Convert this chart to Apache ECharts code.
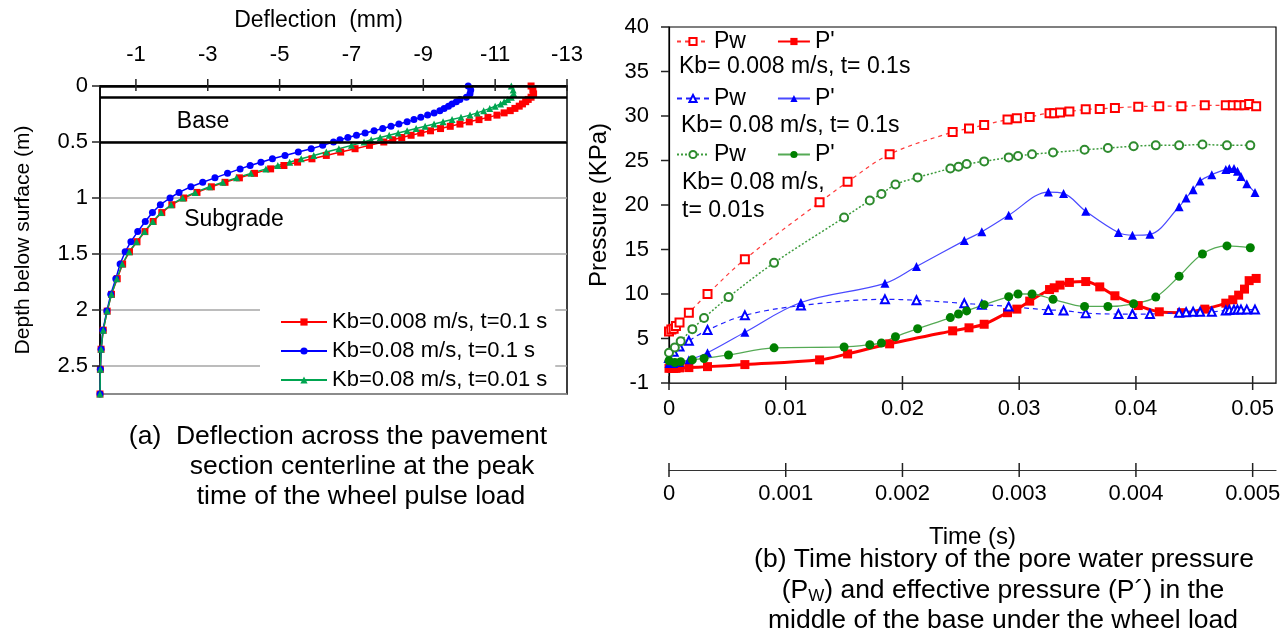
<!DOCTYPE html>
<html>
<head>
<meta charset="utf-8">
<title>Deflection and pore pressure</title>
<script src="https://cdn.jsdelivr.net/npm/echarts@6.0.0/dist/echarts.min.js"></script>
<style>
  html, body { margin: 0; padding: 0; background: #fff; }
  #chart { width: 1286px; height: 634px; }
</style>
</head>
<body>
<div id="chart"></div>
<script>
// (a) deflection profile, shared depth nodes (m)
const depthNodes = [0, 0.035, 0.07, 0.1, 0.12, 0.14, 0.16, 0.18, 0.2, 0.22,
  0.24, 0.26, 0.28, 0.3, 0.32, 0.34, 0.36, 0.38, 0.4, 0.42,
  0.44, 0.46, 0.48, 0.5, 0.53, 0.56, 0.59, 0.62, 0.65, 0.68,
  0.71, 0.74, 0.78, 0.82, 0.86, 0.9, 0.95, 1.0, 1.06, 1.13,
  1.21, 1.3, 1.39, 1.48, 1.59, 1.72, 1.86, 2.01, 2.18, 2.35,
  2.53, 2.75];
const defRed = [-12.0, -12.05, -12.07, -12.0, -11.92, -11.85, -11.76, -11.67, -11.55, -11.42,
  -11.25, -11.05, -10.8, -10.55, -10.28, -10.02, -9.75, -9.48, -9.2, -8.93,
  -8.66, -8.4, -8.15, -7.9, -7.5, -7.1, -6.7, -6.3, -5.9, -5.5,
  -5.12, -4.75, -4.3, -3.88, -3.48, -3.1, -2.7, -2.33, -2.0, -1.72,
  -1.48, -1.25, -1.03, -0.82, -0.63, -0.48, -0.32, -0.2, -0.09, -0.03,
  -0.01, 0];
const defBlue = [-10.25, -10.32, -10.3, -10.2, -10.02, -9.92, -9.8, -9.7, -9.58, -9.46,
  -9.3, -9.12, -8.93, -8.74, -8.55, -8.32, -8.1, -7.87, -7.63, -7.38,
  -7.14, -6.9, -6.68, -6.5, -6.2, -5.88, -5.52, -5.15, -4.8, -4.48,
  -4.18, -3.9, -3.55, -3.2, -2.86, -2.53, -2.2, -1.95, -1.68, -1.46,
  -1.26, -1.05, -0.86, -0.7, -0.56, -0.44, -0.3, -0.19, -0.08, -0.03,
  -0.01, 0];
const defGreen = [-11.45, -11.5, -11.52, -11.45, -11.35, -11.25, -11.15, -11.0, -10.85, -10.68,
  -10.5, -10.3, -10.05, -9.8, -9.55, -9.3, -9.05, -8.8, -8.55, -8.3,
  -8.05, -7.8, -7.55, -7.35, -7.0, -6.65, -6.3, -5.95, -5.6, -5.28,
  -4.95, -4.62, -4.2, -3.8, -3.42, -3.05, -2.65, -2.3, -1.98, -1.7,
  -1.47, -1.24, -1.02, -0.81, -0.62, -0.47, -0.32, -0.2, -0.09, -0.03,
  -0.01, 0];
const layerDepths = [0, 0.1, 0.5];
const deflTicks = [-1, -3, -5, -7, -9, -11, -13];
const depthTicks = [0, 0.5, 1, 1.5, 2, 2.5];

// (b) pressure history (s, KPa)
const redT = [0, 0.0002, 0.0004, 0.0006, 0.0009, 0.0017, 0.0033, 0.0065, 0.0129, 0.0153,
  0.0189, 0.0243, 0.0257, 0.027, 0.029, 0.0298, 0.0309, 0.0326, 0.033, 0.0335,
  0.0343, 0.0357, 0.0369, 0.0382, 0.0402, 0.042, 0.0439, 0.0459, 0.0477, 0.0483,
  0.0488, 0.0493, 0.0497, 0.0503];
const redPw = [5.8, 6.0, 6.1, 6.4, 6.8, 7.9, 10.0, 13.9, 20.3, 22.6,
  25.7, 28.2, 28.6, 29.0, 29.6, 29.75, 29.9, 30.3, 30.3, 30.4,
  30.5, 30.75, 30.8, 30.9, 31.05, 31.1, 31.1, 31.2, 31.2, 31.2,
  31.2, 31.2, 31.35, 31.1];
const redP = [1.65, 1.65, 1.65, 1.65, 1.7, 1.73, 1.84, 2.07, 2.6, 3.27,
  4.4, 5.86, 6.2, 6.6, 7.9, 8.3, 9.2, 10.5, 10.7, 11.0,
  11.3, 11.4, 10.8, 9.8, 8.7, 8.0, 7.9, 8.3, 8.97, 9.35,
  9.87, 10.55, 11.5, 11.75];

const blueT = [0, 0.0004, 0.0009, 0.0017, 0.0033, 0.0065, 0.0113, 0.0185, 0.0212, 0.0253,
  0.0268, 0.0291, 0.0325, 0.0338, 0.0357, 0.0385, 0.0397, 0.0412, 0.0437, 0.0443,
  0.0449, 0.0455, 0.0465, 0.0477, 0.048, 0.0484, 0.0487, 0.049, 0.0495, 0.0502];
const bluePw = [2.8, 3.5, 4.1, 4.75, 5.95, 7.6, 8.7, 9.4, 9.3, 8.95,
  8.8, 8.6, 8.2, 8.15, 7.85, 7.75, 7.75, 7.75, 7.9, 7.95,
  8.0, 8.0, 8.0, 8.15, 8.2, 8.25, 8.25, 8.25, 8.25, 8.25];
const blueP = [2.2, 2.2, 2.3, 2.6, 3.4, 5.7, 9.05, 11.2, 13.1, 16.0,
  17.0, 18.85, 21.45, 21.3, 19.3, 16.9, 16.6, 16.7, 19.8, 20.8,
  21.7, 22.7, 23.4, 24.0, 24.1, 24.1, 23.8, 23.2, 22.4, 21.4];

const greenT = [0, 0.0005, 0.001, 0.002, 0.003, 0.0051, 0.009, 0.015, 0.0172, 0.0182,
  0.0194, 0.0213, 0.0241, 0.0248, 0.0255, 0.027, 0.0291, 0.0299, 0.0311, 0.0329,
  0.0356, 0.0376, 0.0398, 0.0417, 0.0437, 0.0457, 0.0478, 0.0498];
const greenPw = [3.4, 4.0, 4.7, 6.05, 7.3, 9.65, 13.5, 18.6, 20.5, 21.25,
  22.3, 23.1, 24.1, 24.3, 24.6, 24.9, 25.35, 25.5, 25.7, 25.9,
  26.2, 26.4, 26.6, 26.7, 26.7, 26.8, 26.7, 26.7];
const greenP = [2.5, 2.3, 2.4, 2.6, 2.75, 3.15, 3.95, 4.05, 4.3, 4.5,
  5.2, 6.1, 7.35, 7.75, 8.1, 8.8, 9.7, 10.0, 10.0, 9.4,
  8.6, 8.6, 8.9, 9.65, 12.0, 14.5, 15.4, 15.2];

const timeTicks = [0, 0.01, 0.02, 0.03, 0.04, 0.05];
const timeTicks2 = [0, 0.001, 0.002, 0.003, 0.004, 0.005];
const pressureTicks = [0, 5, 10, 15, 20, 25, 30, 35, 40];
const pressureLabels = ['-1', '5', '10', '15', '20', '25', '30', '35', '40'];
const caseNotes = ['Kb= 0.008 m/s, t= 0.1s', 'Kb= 0.08 m/s, t= 0.1s', 'Kb= 0.08 m/s,', 't= 0.01s'];

const font = 'Liberation Sans, Arial, sans-serif';

function pairs(xs, ys) {
  return xs.map((x, i) => [x, ys[i]]);
}

// label only the values listed in a tick array
function onlyTicks(list, names) {
  return (v) => {
    const i = list.findIndex((t) => Math.abs(t - v) < 1e-9);
    if (i < 0) return '';
    return names ? names[i] : String(list[i]);
  };
}

function profile(name, defl, color, symbol) {
  return {
    name: name,
    type: 'line',
    xAxisIndex: 0,
    yAxisIndex: 0,
    data: defl.map((d, i) => [d, depthNodes[i]]),
    symbol: symbol,
    symbolSize: 7,
    itemStyle: { color: color },
    lineStyle: { color: color, width: 1.5 },
    animation: false
  };
}

function history(name, t, v, color, symbol, size, line) {
  return {
    name: name,
    type: 'line',
    xAxisIndex: 1,
    yAxisIndex: 1,
    data: pairs(t, v),
    smooth: 0.35,
    symbol: symbol,
    symbolSize: size,
    itemStyle: { color: line.mark || color, borderWidth: 1.2 },
    lineStyle: { color: color, width: line.width, type: line.type },
    animation: false
  };
}

const legendText = { fontFamily: font, color: '#000' };

const series = [
  profile('Kb=0.008 m/s, t=0.1 s', defRed, '#ff0000', 'rect'),
  profile('Kb=0.08 m/s, t=0.1 s', defBlue, '#0000ff', 'circle'),
  profile('Kb=0.08 m/s, t=0.01 s', defGreen, '#00a550', 'triangle'),
  history('Pw|r', redT, redPw, '#ff3b3b', 'emptyRect', 8, { width: 1.2, type: [4, 4], mark: '#ff0000' }),
  history("P'|r", redT, redP, '#ff0000', 'rect', 9, { width: 3 }),
  history('Pw|b', blueT, bluePw, '#2020ff', 'emptyTriangle', 8, { width: 1.2, type: [5, 4], mark: '#0000ff' }),
  history("P'|b", blueT, blueP, '#4a4aff', 'triangle', 9, { width: 1.2, mark: '#0000ff' }),
  history('Pw|g', greenT, greenPw, '#3c9b3c', 'emptyCircle', 8, { width: 1.5, type: [2, 2], mark: '#2e8b2e' }),
  history("P'|g", greenT, greenP, '#55aa55', 'circle', 9, { width: 1.3, mark: '#008000' })
];

// thick lines for the pavement layer boundaries
series[0].markLine = {
  silent: true,
  symbol: 'none',
  label: { show: false },
  lineStyle: { color: '#000', width: 2.5, type: 'solid' },
  data: layerDepths.map((d) => ({ yAxis: d }))
};

function caseLegend(top, names) {
  return {
    orient: 'horizontal',
    left: 676,
    top: top,
    padding: 0,
    itemGap: 31,
    itemWidth: 32,
    itemHeight: 9,
    textStyle: Object.assign({ fontSize: 23 }, legendText),
    formatter: (n) => n.split('|')[0],
    data: names
  };
}

function txt(x, y, text, size, align) {
  return {
    type: 'text', x: x, y: y,
    style: { text: text, fontSize: size, fontFamily: font, fill: '#000', align: align || 'left', verticalAlign: 'middle' }
  };
}

const texts = [
  txt(203, 122, 'Base', 23, 'center'),
  txt(234, 220, 'Subgrade', 23, 'center'),
  txt(679, 67, caseNotes[0], 23),
  txt(681, 126, caseNotes[1], 23),
  txt(682, 183, caseNotes[2], 23),
  txt(682, 211, caseNotes[3], 23),
  // captions
  txt(338, 437, '(a)  Deflection across the pavement', 26.5, 'center'),
  txt(362, 467, 'section centerline at the peak', 26.5, 'center'),
  txt(361, 497, 'time of the wheel pulse load', 26.5, 'center'),
  txt(1004, 560, '(b) Time history of the pore water pressure', 26.5, 'center'),
  {
    type: 'text', x: 1003, y: 591,
    style: {
      text: '(P{sub|W}) and effective pressure (P\u00b4) in the',
      fontSize: 26.5, fontFamily: font, fill: '#000', align: 'center', verticalAlign: 'middle',
      rich: { sub: { fontSize: 17, fontFamily: font, fill: '#000', verticalAlign: 'bottom' } }
    }
  },
  txt(1003, 621, 'middle of the base under the wheel load', 26.5, 'center')
];

const chart = echarts.init(document.getElementById('chart'), null, { renderer: 'canvas' });
chart.setOption({
  backgroundColor: '#fff',
  animation: false,
  textStyle: { fontFamily: font, color: '#000' },
  grid: [
    { left: 100, right: 719, top: 86, bottom: 240, show: true, borderColor: '#000', borderWidth: 1.5 },
    { left: 669, right: 10, top: 27, bottom: 251, show: true, borderColor: '#000', borderWidth: 1.2 }
  ],
  xAxis: [
    {
      gridIndex: 0, type: 'value', position: 'top', inverse: true,
      min: -13, max: 0, interval: 2,
      name: 'Deflection  (mm)', nameLocation: 'middle', nameGap: 54,
      nameTextStyle: { fontSize: 23, fontFamily: font, color: '#000', padding: [0, 30, 0, 0] },
      axisLine: { show: true, lineStyle: { color: '#000', width: 1.5 } },
      axisTick: { show: false },
      axisLabel: { fontSize: 22, color: '#000', margin: 20, formatter: onlyTicks(deflTicks) },
      splitLine: { show: false }
    },
    {
      gridIndex: 1, type: 'value', position: 'bottom',
      min: 0, max: 0.052, interval: 0.01,
      axisLine: { show: true, onZero: false, lineStyle: { color: '#333', width: 1.2 } },
      axisTick: { show: false },
      axisLabel: { fontSize: 22, color: '#000', margin: 15, formatter: onlyTicks(timeTicks) },
      splitLine: { show: false }
    },
    {
      gridIndex: 1, type: 'value', position: 'bottom', offset: 87,
      min: 0, max: 0.0052, interval: 0.001,
      name: 'Time (s)', nameLocation: 'middle', nameGap: 55,
      nameTextStyle: { fontSize: 24, fontFamily: font, color: '#000' },
      axisLine: { show: true, onZero: false, lineStyle: { color: '#333', width: 1.2 } },
      axisTick: { show: false },
      axisLabel: { fontSize: 22, color: '#000', margin: 13, formatter: onlyTicks(timeTicks2) },
      splitLine: { show: false }
    }
  ],
  yAxis: [
    {
      gridIndex: 0, type: 'value', inverse: true,
      min: 0, max: 2.75, interval: 0.5,
      name: 'Depth below surface (m)', nameLocation: 'middle', nameGap: 66,
      nameTextStyle: { fontSize: 21, fontFamily: font, color: '#000' },
      axisLine: { show: true, lineStyle: { color: '#000', width: 1.5 } },
      axisTick: { show: false },
      axisLabel: { fontSize: 22, color: '#000', margin: 12, formatter: onlyTicks(depthTicks) },
      splitLine: { show: true, lineStyle: { color: '#a6a6a6', width: 1.5 } }
    },
    {
      gridIndex: 1, type: 'value',
      min: 0, max: 40, interval: 5,
      name: 'Pressure (KPa)', nameLocation: 'middle', nameGap: 58,
      nameTextStyle: { fontSize: 24, fontFamily: font, color: '#000' },
      axisLine: { show: true, lineStyle: { color: '#000', width: 1.2 } },
      axisTick: { show: false },
      axisLabel: { fontSize: 22, color: '#000', margin: 20, formatter: onlyTicks(pressureTicks, pressureLabels) },
      splitLine: { show: false }
    }
  ],
  legend: [
    {
      orient: 'vertical', left: 260, top: 305,
      padding: [6, 8, 2, 20],
      backgroundColor: '#fff',
      itemWidth: 46, itemHeight: 9, itemGap: 7,
      textStyle: Object.assign({ fontSize: 22 }, legendText),
      data: ['Kb=0.008 m/s, t=0.1 s', 'Kb=0.08 m/s, t=0.1 s', 'Kb=0.08 m/s, t=0.01 s']
    },
    caseLegend(30, ['Pw|r', "P'|r"]),
    caseLegend(87, ['Pw|b', "P'|b"]),
    caseLegend(143, ['Pw|g', "P'|g"])
  ],
  graphic: texts,
  series: series
});

// tick marks, placed through the axes' own scales
function tickLine(x1, y1, x2, y2) {
  return { type: 'line', z: 10, shape: { x1: x1, y1: y1, x2: x2, y2: y2 }, style: { stroke: '#222', lineWidth: 1.5 } };
}
const ticks = [];
const topY = chart.convertToPixel({ yAxisIndex: 0 }, 0);
const leftX = chart.convertToPixel({ xAxisIndex: 0 }, 0);
const baseY = chart.convertToPixel({ yAxisIndex: 1 }, 0);
const baseX = chart.convertToPixel({ xAxisIndex: 1 }, 0);
deflTicks.forEach((v) => {
  const x = chart.convertToPixel({ xAxisIndex: 0 }, v);
  ticks.push(tickLine(x, topY - 7, x, topY + 5));
});
depthTicks.forEach((v) => {
  const y = chart.convertToPixel({ yAxisIndex: 0 }, v);
  ticks.push(tickLine(leftX - 8, y, leftX, y));
});
timeTicks.forEach((v) => {
  const x = chart.convertToPixel({ xAxisIndex: 1 }, v);
  ticks.push(tickLine(x, baseY - 7, x, baseY + 7));
});
timeTicks2.forEach((v) => {
  const x = chart.convertToPixel({ xAxisIndex: 2 }, v);
  ticks.push(tickLine(x, baseY + 87 - 7, x, baseY + 87 + 7));
});
pressureTicks.forEach((v) => {
  const y = chart.convertToPixel({ yAxisIndex: 1 }, v);
  ticks.push(tickLine(baseX - 8, y, baseX, y));
});
chart.setOption({ graphic: texts.concat(ticks) });
</script>
</body>
</html>
